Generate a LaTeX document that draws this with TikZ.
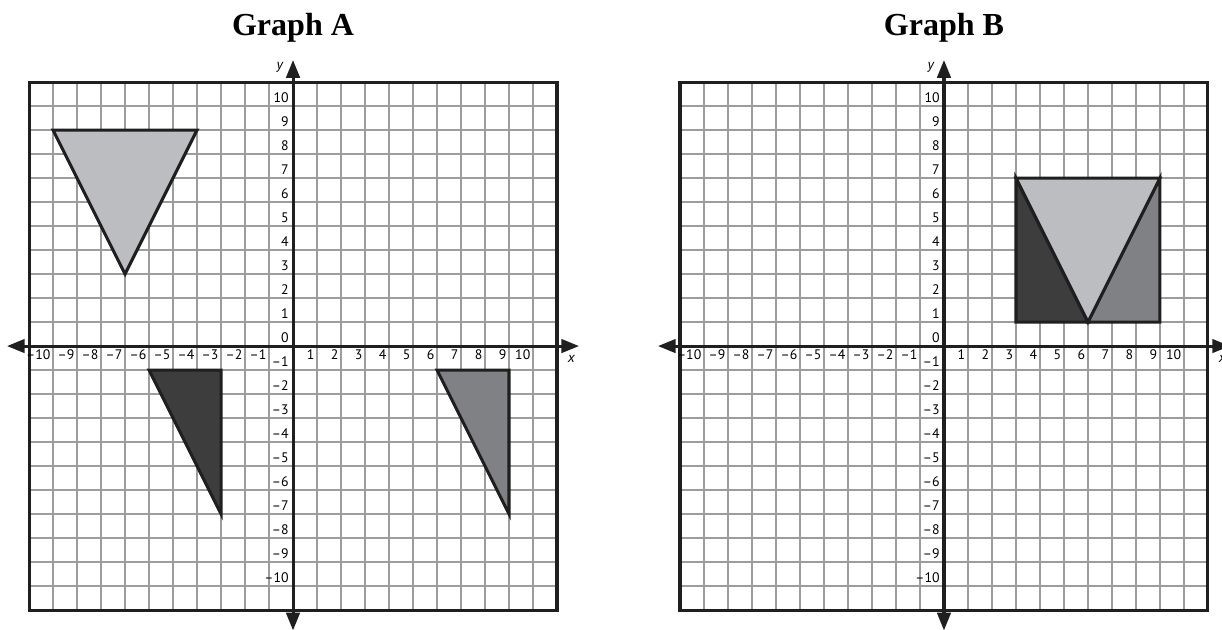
\documentclass[tikz,border=0pt]{standalone}
\usepackage{fontspec}
\setmainfont{Liberation Serif}
\newfontfamily\tickfont{PT Sans}
\usetikzlibrary{arrows.meta}
\definecolor{gridgray}{HTML}{9D9D9D}
\definecolor{figlight}{HTML}{BCBDC0}
\definecolor{figmid}{HTML}{808184}
\definecolor{figdark}{HTML}{3D3D3D}

\begin{document}
\begin{tikzpicture}[
  x=0.5cm, y=0.5cm,
  gridline/.style={draw=gridgray, line width=0.75pt, step=0.5cm},
  frame/.style={draw=black!88, line width=1.8pt},
  axisline/.style={draw=black!88, line width=1.8pt, {Triangle[length=0.37cm,width=0.28cm]}-{Triangle[length=0.37cm,width=0.28cm]}},
  xtick/.style={anchor=north east, inner xsep=1.4pt, inner ysep=2pt, font=\tickfont\fontsize{8.2}{9}\selectfont},
  ytick/.style={anchor=south east, inner xsep=2.4pt, inner ysep=2pt, font=\tickfont\fontsize{8.2}{9}\selectfont},
  axisname/.style={font=\tickfont\itshape\fontsize{8.5}{9}\selectfont, inner sep=0pt},
  graphtitle/.style={anchor=base, inner sep=0pt, font=\bfseries\fontsize{19}{22}\selectfont},
  figline/.style={draw=black!88, line width=1.8pt},
  lightfig/.style={figline, fill=figlight},
  midfig/.style={figline, fill=figmid},
  darkfig/.style={figline, fill=figdark}
]
  \useasboundingbox (-12.21,-11.83) rectangle (38.71,14.42);

  % the two coordinate planes
  \foreach \gx/\gname in {0/A,27.125/B}{
    \begin{scope}[shift={(\gx,0)}]
      \node[graphtitle] (title\gname) at (0,12.96) {Graph \gname};
      \draw[gridline] (-11,-11) grid (11,11);
      \draw[frame] (-11,-11) rectangle (11,11);
      \draw[axisline] (-11.92,0) -- (11.92,0);
      \draw[axisline] (0,-11.85) -- (0,11.92);
      \node[axisname] (xname\gname) at (11.6,-0.55) {x};
      \node[axisname] (yname\gname) at (-0.55,11.62) {y};
      \node[ytick] (yzero\gname) at (0,0) {0};
      \foreach \n in {1,...,10}{
        \node[xtick] at (\n,0) {\n};
        \node[xtick] at (-\n,0) {–\n};
        \node[ytick] at (0,\n) {\n};
        \node[ytick] at (0,-\n) {–\n};
      }
    \end{scope}
  }

  % Graph A figures
  \filldraw[lightfig] (-10,9) -- (-4,9) -- (-7,3) -- cycle;
  \filldraw[darkfig] (-6,-1) -- (-3,-1) -- (-3,-7) -- cycle;
  \filldraw[midfig] (6,-1) -- (9,-1) -- (9,-7) -- cycle;

  % Graph B figures
  \begin{scope}[shift={(27.125,0)}]
    \filldraw[darkfig] (3,7) -- (3,1) -- (6,1) -- cycle;
    \filldraw[midfig] (9,7) -- (9,1) -- (6,1) -- cycle;
    \filldraw[lightfig] (3,7) -- (9,7) -- (6,1) -- cycle;
  \end{scope}
\end{tikzpicture}
\end{document}
